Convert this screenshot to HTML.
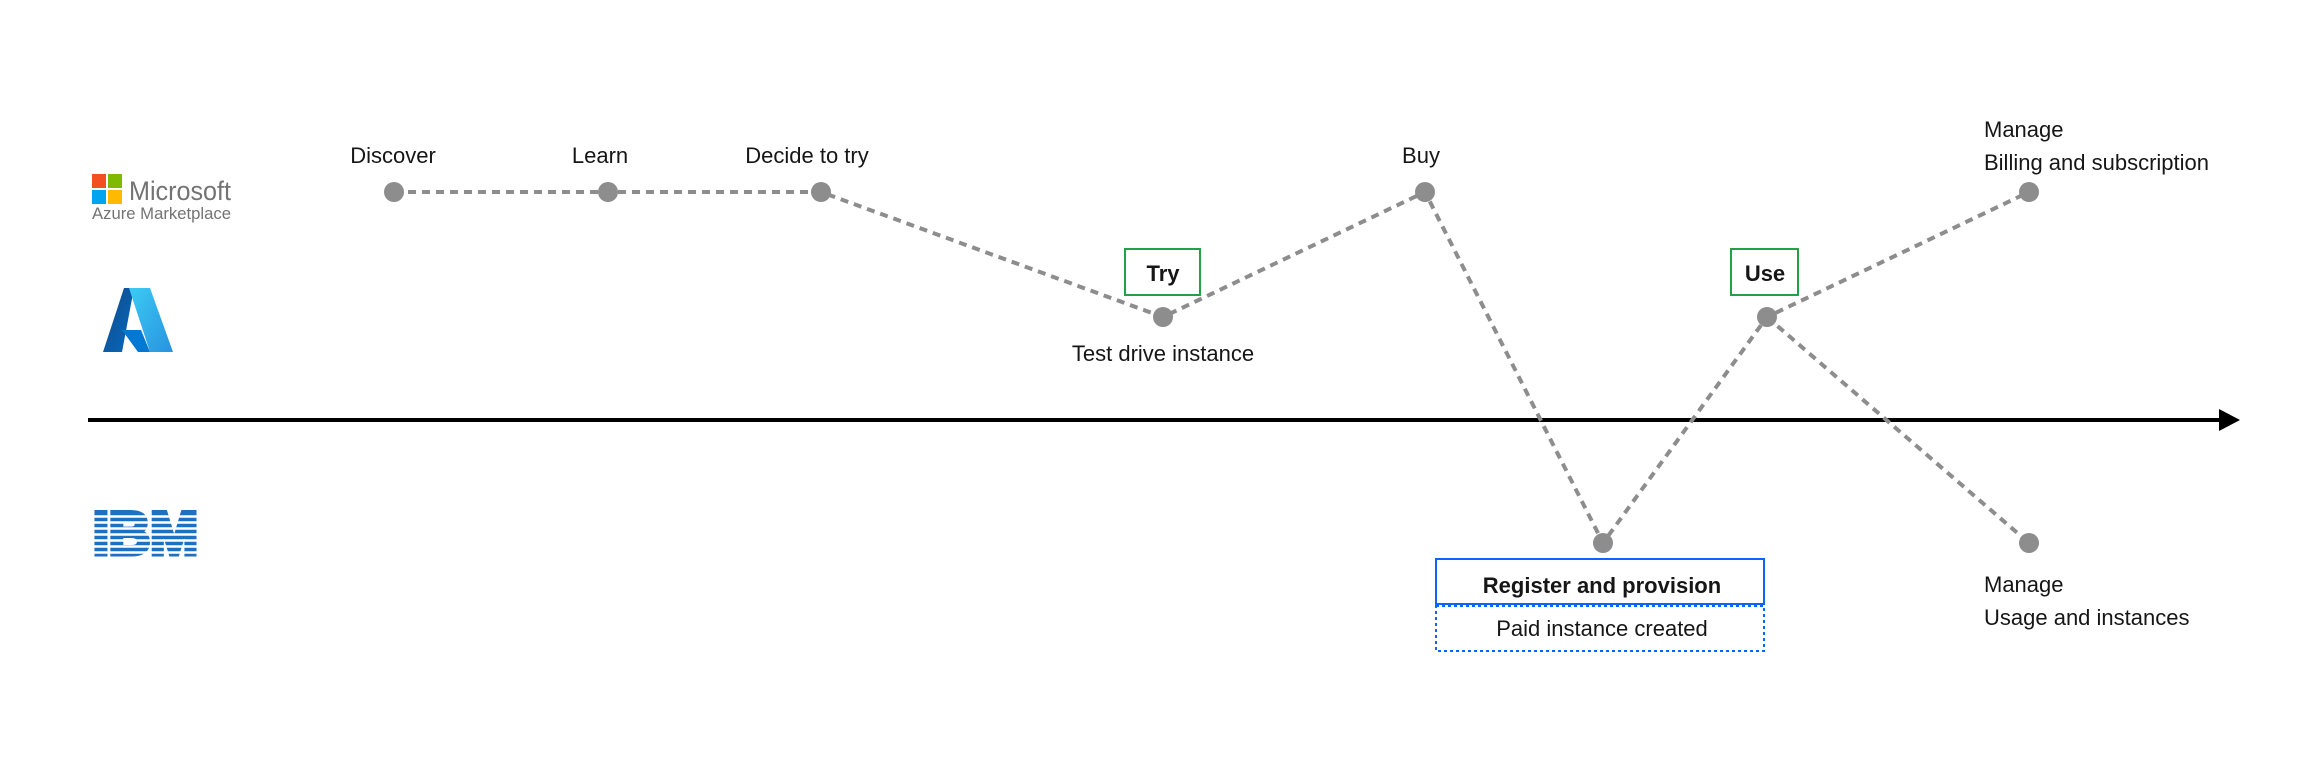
<!DOCTYPE html>
<html><head><meta charset="utf-8"><style>
html,body{margin:0;padding:0;background:#fff;}
svg{display:block}
text{font-family:"Liberation Sans",sans-serif;fill:#161616;}
</style></head><body>
<svg width="2304" height="760" viewBox="0 0 2304 760" xmlns="http://www.w3.org/2000/svg">
<rect x="92" y="174" width="14" height="14" fill="#f25022"/>
<rect x="108" y="174" width="14" height="14" fill="#7fba00"/>
<rect x="92" y="190" width="14" height="14" fill="#00a4ef"/>
<rect x="108" y="190" width="14" height="14" fill="#ffb900"/>
<text x="129" y="200" font-size="27" style="fill:#737373" textLength="102" lengthAdjust="spacingAndGlyphs">Microsoft</text>
<text x="92" y="219" font-size="17" style="fill:#737373" textLength="139" lengthAdjust="spacingAndGlyphs">Azure Marketplace</text>
<defs>
<linearGradient id="ga" x1="0" y1="0" x2="1" y2="1"><stop offset="0" stop-color="#114a8b"/><stop offset="1" stop-color="#0669bc"/></linearGradient>
<linearGradient id="gb" x1="0" y1="0" x2="1" y2="1"><stop offset="0" stop-color="#3ccbf4"/><stop offset="1" stop-color="#2892df"/></linearGradient>
</defs>
<path d="M124 288 L134 288 L122 352 L103 352 Z" fill="url(#ga)"/>
<path d="M129 288 L150 288 L173 352 L150 352 Z" fill="url(#gb)"/>
<path d="M122 330 L141 330 L150 352 L138 352 Z" fill="#0078d4"/>
<text x="93" y="554" font-size="60" style="fill:#1f70c1;stroke:#1f70c1;stroke-width:5;font-weight:bold" textLength="105" lengthAdjust="spacingAndGlyphs">IBM</text>
<g stroke="#fff" stroke-width="2.6">
<line x1="85" y1="516.5" x2="205" y2="516.5"/><line x1="85" y1="522.5" x2="205" y2="522.5"/><line x1="85" y1="528.5" x2="205" y2="528.5"/><line x1="85" y1="534.5" x2="205" y2="534.5"/><line x1="85" y1="540.5" x2="205" y2="540.5"/><line x1="85" y1="546.5" x2="205" y2="546.5"/><line x1="85" y1="552.5" x2="205" y2="552.5"/>
</g>
<line x1="88" y1="420" x2="2222" y2="420" stroke="#000" stroke-width="4"/>
<path d="M2219 409 L2240 420 L2219 431 Z" fill="#000"/>
<polyline points="394,192 608,192 821,192 1163,317 1425,192 1603,543 1767,317 2029,192" fill="none" stroke="#8d8d8d" stroke-width="4" stroke-dasharray="8,6"/>
<line x1="1767" y1="317" x2="2029" y2="543" stroke="#8d8d8d" stroke-width="4" stroke-dasharray="8,6"/>
<g fill="#8d8d8d">
<circle cx="394" cy="192" r="10"/><circle cx="608" cy="192" r="10"/><circle cx="821" cy="192" r="10"/>
<circle cx="1163" cy="317" r="10"/><circle cx="1425" cy="192" r="10"/><circle cx="1603" cy="543" r="10"/>
<circle cx="1767" cy="317" r="10"/><circle cx="2029" cy="192" r="10"/><circle cx="2029" cy="543" r="10"/>
</g>
<g font-size="22">
<text x="393" y="163" text-anchor="middle">Discover</text>
<text x="600" y="163" text-anchor="middle">Learn</text>
<text x="807" y="163" text-anchor="middle">Decide to try</text>
<text x="1421" y="163" text-anchor="middle">Buy</text>
<text x="1163" y="361" text-anchor="middle">Test drive instance</text>
<text x="1984" y="137">Manage</text>
<text x="1984" y="170">Billing and subscription</text>
<text x="1984" y="592">Manage</text>
<text x="1984" y="625">Usage and instances</text>
</g>
<rect x="1125" y="249" width="75" height="46" fill="#fff" stroke="#24a148" stroke-width="2"/>
<text x="1163" y="281" font-size="22" font-weight="bold" text-anchor="middle">Try</text>
<rect x="1731" y="249" width="67" height="46" fill="#fff" stroke="#24a148" stroke-width="2"/>
<text x="1765" y="281" font-size="22" font-weight="bold" text-anchor="middle">Use</text>
<rect x="1436" y="559" width="328" height="45" fill="#fff" stroke="#0f62fe" stroke-width="2"/>
<text x="1602" y="593" font-size="22" font-weight="bold" text-anchor="middle">Register and provision</text>
<rect x="1436" y="606" width="328" height="45" fill="none" stroke="#0f62fe" stroke-width="2" stroke-dasharray="3,3"/>
<text x="1602" y="636" font-size="22" text-anchor="middle">Paid instance created</text>
</svg>
</body></html>
